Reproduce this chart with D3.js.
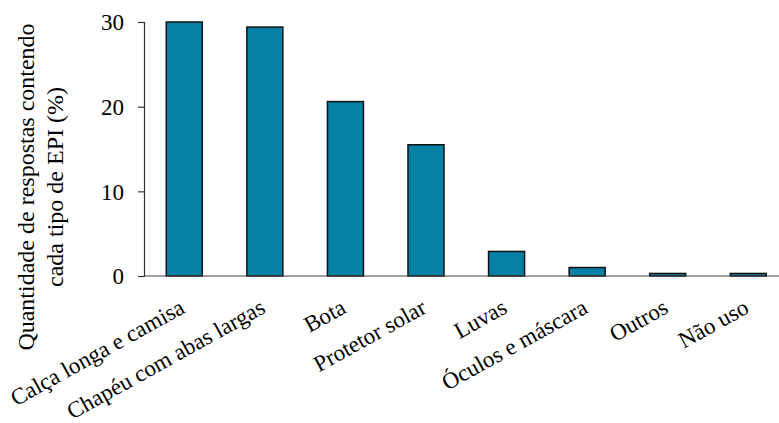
<!DOCTYPE html>
<html><head><meta charset="utf-8">
<script src="https://cdn.jsdelivr.net/npm/d3@7"></script>
<style>body{margin:0;background:#fff}svg{display:block}</style>
</head><body>
<svg id="c" width="779" height="423"></svg>
<script>
const categories = ["Calça longa e camisa","Chapéu com abas largas","Bota","Protetor solar","Luvas","Óculos e máscara","Outros","Não uso"];
const values = [30, 29.4, 20.6, 15.5, 2.9, 1.0, 0.3, 0.3];
const yTicks = [0, 10, 20, 30];
const yLabelLines = ["Quantidade de respostas contendo", "cada tipo de EPI (%)"];

const svg = d3.select("#c");
const font = "'Liberation Serif','Times New Roman',serif";
const x0 = 144, y0 = 276, yTop = 22;
const step = 80.57;
const x = d3.scaleBand().domain(categories).range([x0, x0 + step*categories.length])
  .paddingInner(0.553).paddingOuter(0.2765);
const y = d3.scaleLinear().domain([0, 30]).range([y0, yTop]);

svg.selectAll("rect.bar").data(values).join("rect").attr("class","bar")
  .attr("x", (d,i)=>x(categories[i]))
  .attr("y", d=>y(d))
  .attr("width", x.bandwidth())
  .attr("height", d=>y0 - y(d))
  .attr("fill", "#0780a5")
  .attr("stroke", "#111")
  .attr("stroke-width", 1.5);

// y axis
const ya = svg.append("g").attr("transform", `translate(${x0},0)`)
  .call(d3.axisLeft(y).tickValues(yTicks).tickSize(6).tickPadding(14));
ya.select(".domain").attr("stroke","#333").attr("stroke-width",1.2);
ya.selectAll(".tick line").attr("stroke","#333").attr("stroke-width",1.2);
ya.selectAll(".tick text").attr("font-family",font).attr("font-size",23).attr("fill","#000").attr("dy","0.34em");

// x axis line
svg.append("line").attr("x1", x0).attr("x2", 779).attr("y1", y0).attr("y2", y0)
  .attr("stroke","#444").attr("stroke-width",1.2);

// x labels
svg.selectAll("text.xl").data(categories).join("text").attr("class","xl")
  .attr("transform", d=>`translate(${x(d)+x.bandwidth()/2+2},${y0+36}) rotate(-29)`)
  .attr("text-anchor","end")
  .attr("font-family",font).attr("font-size",23).attr("fill","#000")
  .text(d=>d);

// y label
const yl = svg.append("text").attr("transform","translate(0,187) rotate(-90)")
  .attr("text-anchor","middle").attr("font-family",font).attr("font-size",24).attr("fill","#000");
yLabelLines.forEach((t,i)=>{
  yl.append("tspan").attr("x",0).attr("y", 34 + i*29).text(t);
});
</script>
</body></html>
